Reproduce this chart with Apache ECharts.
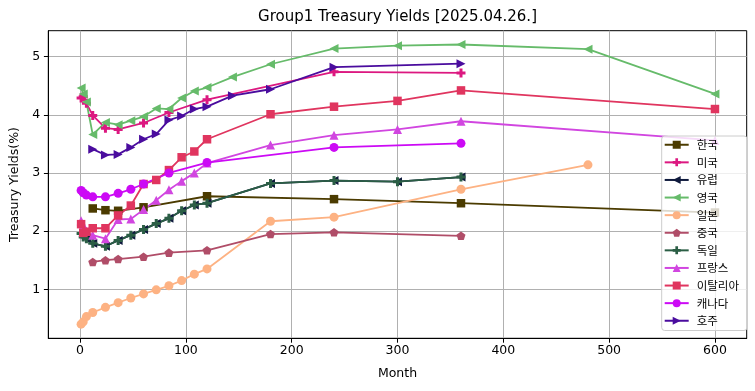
<!DOCTYPE html>
<html><head><meta charset="utf-8">
<script src="https://cdn.jsdelivr.net/npm/echarts@6/dist/echarts.min.js"></script>
<style>html,body{margin:0;padding:0;background:#fff}#c{width:755px;height:391px}</style>
</head><body><div id="c"></div>
<script>
const xTicks = [0, 100, 200, 300, 400, 500, 600];
const yTicks = [1, 2, 3, 4, 5];

const krMonths = [12, 24, 36, 60, 120, 240, 360, 600];
const krYields = [2.39, 2.36, 2.35, 2.41, 2.60, 2.55, 2.48, 2.32];

const usMonths = [1, 3, 6, 12, 24, 36, 60, 84, 120, 240, 360];
const usYields = [4.29, 4.31, 4.20, 3.99, 3.77, 3.75, 3.86, 4.04, 4.26, 4.74, 4.72];

const euMonths = [1, 3, 6, 12, 24, 36, 48, 60, 72, 84, 96, 108, 120, 180, 240, 300, 360];
const euYields = [1.96, 1.90, 1.87, 1.79, 1.74, 1.84, 1.93, 2.03, 2.13, 2.22, 2.35, 2.45, 2.48, 2.82, 2.87, 2.85, 2.93];

const ukMonths = [1, 3, 6, 12, 24, 36, 48, 60, 72, 84, 96, 108, 120, 144, 180, 240, 300, 360, 480, 600];
const ukYields = [4.46, 4.36, 4.22, 3.66, 3.87, 3.83, 3.90, 3.97, 4.11, 4.10, 4.29, 4.41, 4.47, 4.65, 4.87, 5.14, 5.19, 5.21, 5.13, 4.36];

const jpMonths = [1, 3, 6, 12, 24, 36, 48, 60, 72, 84, 96, 108, 120, 180, 240, 360, 480];
const jpYields = [0.40, 0.44, 0.53, 0.60, 0.69, 0.77, 0.85, 0.92, 0.99, 1.06, 1.15, 1.26, 1.35, 2.17, 2.24, 2.72, 3.14];

const cnMonths = [12, 24, 36, 60, 84, 120, 180, 240, 360];
const cnYields = [1.47, 1.50, 1.52, 1.56, 1.63, 1.67, 1.95, 1.98, 1.92];

const deMonths = [1, 3, 6, 12, 24, 36, 48, 60, 72, 84, 96, 108, 120, 180, 240, 300, 360];
const deYields = [1.96, 1.90, 1.87, 1.79, 1.74, 1.84, 1.93, 2.03, 2.13, 2.22, 2.35, 2.45, 2.48, 2.82, 2.87, 2.85, 2.93];

const frMonths = [1, 3, 6, 12, 24, 36, 48, 60, 72, 84, 96, 108, 120, 180, 240, 300, 360, 600];
const frYields = [2.18, 2.10, 2.00, 1.93, 1.87, 2.20, 2.21, 2.37, 2.53, 2.71, 2.86, 3.00, 3.17, 3.48, 3.65, 3.75, 3.89, 3.56];

const itMonths = [1, 3, 6, 12, 24, 36, 48, 60, 72, 84, 96, 108, 120, 180, 240, 300, 360, 600];
const itYields = [2.12, 1.97, 1.99, 2.05, 2.05, 2.27, 2.44, 2.81, 2.88, 3.05, 3.27, 3.37, 3.58, 4.01, 4.14, 4.24, 4.42, 4.10];

const caMonths = [1, 3, 6, 12, 24, 36, 48, 60, 84, 120, 240, 360];
const caYields = [2.70, 2.66, 2.62, 2.59, 2.59, 2.65, 2.72, 2.81, 3.00, 3.18, 3.44, 3.51];

const auMonths = [12, 24, 36, 48, 60, 72, 84, 96, 108, 120, 144, 180, 240, 360];
const auYields = [3.41, 3.31, 3.32, 3.44, 3.58, 3.67, 3.91, 3.98, 4.10, 4.14, 4.33, 4.44, 4.82, 4.88];

const SYM = {
  square: 'rect',
  circle: 'circle',
  up: 'triangle',
  left: 'path://M0,5 L10,0 L10,10 Z',
  right: 'path://M10,5 L0,0 L0,10 Z',
  plus: 'path://M2,0 H4 V2 H6 V4 H4 V6 H2 V4 H0 V2 H2 Z',
  pent: 'path://M0,-1 L0.951,-0.309 L0.588,0.809 L-0.588,0.809 L-0.951,-0.309 Z'
};

function mk(name, months, vals, color, sym, size) {
  return {
    name: name, type: 'line',
    data: months.map((m, i) => [m, vals[i]]),
    symbol: SYM[sym], symbolSize: size, symbolKeepAspect: true,
    showAllSymbol: true,
    lineStyle: { color: color, width: 1.8 },
    itemStyle: { color: color, borderWidth: 0 },
    emphasis: { disabled: true },
    animation: false
  };
}

const series = [
  mk('한국', krMonths, krYields, '#4b3b00', 'square', 8.5),
  mk('미국', usMonths, usYields, '#dc1880', 'plus', 9),
  mk('유럽', euMonths, euYields, '#0f1a3d', 'left', 9),
  mk('영국', ukMonths, ukYields, '#66bb6a', 'left', 9),
  mk('일본', jpMonths, jpYields, '#fdb283', 'circle', 9),
  mk('중국', cnMonths, cnYields, '#b04d68', 'pent', 9),
  mk('독일', deMonths, deYields, '#2b5e45', 'plus', 9),
  mk('프랑스', frMonths, frYields, '#d146e0', 'up', 9),
  mk('이탈리아', itMonths, itYields, '#e0355f', 'square', 8.5),
  mk('캐나다', caMonths, caYields, '#cc0af5', 'circle', 9),
  mk('호주', auMonths, auYields, '#4a0c9e', 'right', 9)
];

const chart = echarts.init(document.getElementById('c'), null, { renderer: 'canvas' });
const FONT = 'DejaVu Sans';
chart.setOption({
  animation: false,
  backgroundColor: '#ffffff',
  title: {
    text: 'Group1 Treasury Yields [2025.04.26.]',
    left: 397.5, top: 10, textAlign: 'center', padding: 0,
    textStyle: { fontFamily: FONT, fontSize: 15, fontWeight: 'normal', color: '#000' }
  },
  grid: {
    left: 48.3, right: 8.3, top: 30.7, bottom: 52.7,
    show: true, borderColor: '#000', borderWidth: 1, backgroundColor: 'transparent'
  },
  xAxis: {
    type: 'value', min: -30, max: 630,
    name: 'Month', nameLocation: 'middle', nameGap: 29,
    nameTextStyle: { fontFamily: FONT, fontSize: 12.5, color: '#000' },
    axisLine: { show: true, onZero: false, lineStyle: { color: '#000', width: 1 } },
    axisTick: { show: true, inside: false, length: 4.4, customValues: xTicks, lineStyle: { color: '#000', width: 1 } },
    axisLabel: { customValues: xTicks, margin: 6, fontFamily: FONT, fontSize: 12.5, color: '#000' },
    splitLine: { show: true, lineStyle: { color: '#b0b0b0', width: 1 } }
  },
  yAxis: {
    type: 'value', min: 0.157, max: 5.447,
    name: 'Treasury Yields(%)', nameLocation: 'middle', nameGap: 24,
    nameTextStyle: { fontFamily: FONT, fontSize: 12.5, color: '#000' },
    axisLine: { show: true, onZero: false, lineStyle: { color: '#000', width: 1 } },
    axisTick: { show: true, inside: false, length: 4.4, customValues: yTicks, lineStyle: { color: '#000', width: 1 } },
    axisLabel: { customValues: yTicks, margin: 8, fontFamily: FONT, fontSize: 12.5, color: '#000',
      formatter: v => String(Math.round(v)) },
    splitLine: { show: true, lineStyle: { color: '#b0b0b0', width: 1 } }
  },
  legend: {
    orient: 'vertical', left: 661.7, top: 136,
    padding: [3, 8, 4, 2],
    itemGap: 6.1, itemWidth: 24, itemHeight: 10,
    backgroundColor: 'rgba(255,255,255,0.8)',
    borderColor: '#cccccc', borderWidth: 1, borderRadius: 3,
    textStyle: { fontFamily: 'Noto Sans CJK KR', fontSize: 11.5, color: '#000', lineHeight: 10, height: 10, padding: [0, 0, 0, 3] },
    selectedMode: false,
    data: series.map(s => s.name)
  },
  series: series
});
</script>
</body></html>
